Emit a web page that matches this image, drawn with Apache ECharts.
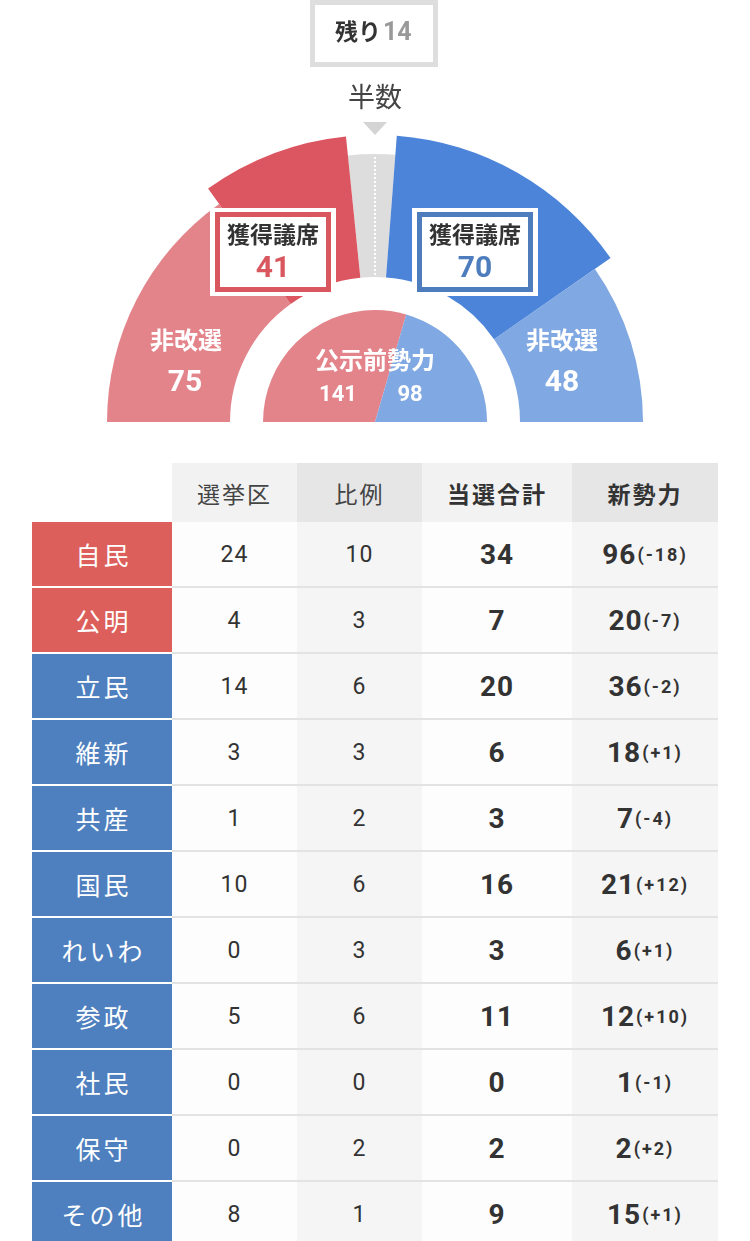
<!DOCTYPE html>
<html lang="ja">
<head>
<meta charset="UTF-8">
<title>参院選 獲得議席</title>
<script src="https://cdn.jsdelivr.net/npm/echarts@6/dist/echarts.min.js"></script>
<style>
    body { margin: 0; background: #fff; width: 750px; height: 1241px; overflow: hidden;
           font-family: Roboto, "Noto Sans CJK JP", sans-serif; }
    #seatChart { position: absolute; left: 0; top: 0; width: 750px; height: 440px; }
    #resultTable { position: absolute; left: 32px; top: 463px; width: 686px; }
    .row { display: flex; height: 66px; }
    .row > div { display: flex; align-items: center; justify-content: center; box-sizing: border-box;
                 height: 66px; border-bottom: 2px solid #e3e3e3; color: #333; }
    .row.head, .row.head > div { height: 59px; border-bottom: none; }
    .head > div { font-family: "Noto Sans CJK JP", sans-serif; font-size: 23px; letter-spacing: 2px; color: #444; }
    .head .b { font-weight: bold; color: #333; }
    .c0 { width: 140px; } .c1 { width: 125px; } .c2 { width: 125px; } .c3 { width: 150px; } .c4 { width: 146px; }
    .lt { background: #f2f2f2; } .dk { background: #e6e6e6; }
    .body .c1, .body .c3 { background: #fdfdfd; }
    .body .c2, .body .c4 { background: #f5f5f5; }
    .body .c0 { color: #fff !important; border-bottom-color: #fff !important;
                font-family: "Noto Sans CJK JP", sans-serif; font-size: 25px; letter-spacing: 3px; padding-left: 3px; }
    .body .c1, .body .c2 { font-size: 23px; letter-spacing: 1px; }
    .body .c3, .body .c4 { font-size: 28px; font-weight: bold; letter-spacing: 1px; }
    .diff { font-size: 18px; letter-spacing: 2px; margin-left: 1px; }
</style>
</head>
<body>
<div id="seatChart"></div>
<div id="resultTable"></div>

<script>
    // 議席 (左から: 与党非改選, 与党獲得, 残り, 野党獲得, 野党非改選)
    var seatNames = ['非改選', '獲得議席', '残り', '獲得議席', '非改選'];
    var seatValues = [75, 41, 14, 70, 48];
    // 公示前勢力 (与党, 野党)
    var preNames = ['与党', '野党'];
    var preValues = [141, 98];

    // 表
    var headers = ['選挙区', '比例', '当選合計', '新勢力'];
    var parties = ['自民', '公明', '立民', '維新', '共産', '国民', 'れいわ', '参政', '社民', '保守', 'その他'];
    var rulingCount = 2;
    var districtSeats = [24, 4, 14, 3, 1, 10, 0, 5, 0, 0, 8];
    var propSeats = [10, 3, 6, 3, 2, 6, 3, 6, 0, 2, 1];
    var wonSeats = [34, 7, 20, 6, 3, 16, 3, 11, 0, 2, 9];
    var newSeats = [96, 20, 36, 18, 7, 21, 6, 12, 1, 2, 15];
    var seatDiff = [-18, -7, -2, 1, -4, 12, 1, 10, -1, 2, 1];

    var RED_L = '#e3848b', RED_D = '#db5660', BLUE_L = '#80a8e2', BLUE_D = '#4b84d8', GRAY = '#dddddd';
    var CX = 375, CY = 422;
    var FONT = 'Roboto, "Noto Sans CJK JP", sans-serif';

    function ring(colors) {
        return seatValues.map(function (v, i) {
            return { name: seatNames[i], value: v, itemStyle: { color: colors[i] } };
        });
    }
    function txt(text, x, y, size, color, align) {
        return {
            type: 'text', silent: true, z: 20,
            style: { text: text, x: x, y: y, fill: color, fontSize: size, fontWeight: 'bold',
                     fontFamily: FONT, textAlign: align || 'center', textVerticalAlign: 'middle' }
        };
    }
    function box(cx, color, num) {
        return [
            { type: 'rect', silent: true, z: 18, shape: { x: cx - 61, y: 210, width: 122, height: 84 },
              style: { fill: '#fff', stroke: '#fff', lineWidth: 4 } },
            { type: 'rect', silent: true, z: 19, shape: { x: cx - 55.5, y: 214.5, width: 111, height: 75 },
              style: { fill: '#fff', stroke: color, lineWidth: 5 } },
            txt('獲得議席', cx, 237, 23, '#333'),
            txt(String(num), cx, 269, 30, color)
        ];
    }

    var chart = echarts.init(document.getElementById('seatChart'));
    var pieBase = { type: 'pie', silent: true, center: [CX, CY], startAngle: 180, endAngle: 0,
                    label: { show: false }, labelLine: { show: false } };

    var graphic = [
        { type: 'rect', silent: true, shape: { x: 312.5, y: 2.5, width: 123, height: 62 },
          style: { fill: '#fff', stroke: '#dedede', lineWidth: 5 } },
        txt('残り', 381, 34, 23, '#333', 'right'),
        txt(String(seatValues[2]), 383, 34, 25, '#999', 'left'),
        { type: 'text', silent: true, style: { text: '半数', x: CX, y: 100, fill: '#444', fontSize: 27,
          fontFamily: FONT, textAlign: 'center', textVerticalAlign: 'middle' } },
        { type: 'polygon', silent: true, shape: { points: [[CX - 12, 122], [CX + 12, 122], [CX, 135]] },
          style: { fill: '#d4d4d4' } },
        { type: 'line', silent: true, z: 10, shape: { x1: CX, y1: 157, x2: CX, y2: 280 },
          style: { stroke: '#fff', lineWidth: 2, lineDash: [2, 2] } },
        txt(seatNames[0], 186, 343, 24, '#fff'),
        txt(String(seatValues[0]), 185, 383, 30, '#fff'),
        txt(seatNames[4], 562, 343, 24, '#fff'),
        txt(String(seatValues[4]), 562, 383, 30, '#fff'),
        txt('公示前勢力', CX, 363, 24, '#fff'),
        txt(String(preValues[0]), 338, 395, 22, '#fff'),
        txt(String(preValues[1]), 410, 395, 22, '#fff')
    ].concat(box(273, '#d9575e', seatValues[1]), box(475, '#4e7dbd', seatValues[3]));

    chart.setOption({
        animation: false,
        series: [
            Object.assign({}, pieBase, { radius: [145, 268],
                data: ring([RED_L, 'transparent', GRAY, 'transparent', BLUE_L]) }),
            Object.assign({}, pieBase, { radius: [145, 287],
                data: ring(['transparent', RED_D, 'transparent', BLUE_D, 'transparent']) }),
            Object.assign({}, pieBase, { radius: [0, 112],
                data: preValues.map(function (v, i) {
                    return { name: preNames[i], value: v, itemStyle: { color: i === 0 ? RED_L : BLUE_L } };
                }) })
        ],
        graphic: graphic
    });

    // 表を組み立て
    var html = '<div class="row head"><div class="c0"></div>' +
        '<div class="c1 lt">' + headers[0] + '</div>' +
        '<div class="c2 dk">' + headers[1] + '</div>' +
        '<div class="c3 lt b">' + headers[2] + '</div>' +
        '<div class="c4 dk b">' + headers[3] + '</div></div>';
    for (var i = 0; i < parties.length; i++) {
        var bg = i < rulingCount ? '#dc5f5b' : '#4e7fbe';
        var d = seatDiff[i] > 0 ? '+' + seatDiff[i] : String(seatDiff[i]);
        html += '<div class="row body">' +
            '<div class="c0" style="background:' + bg + '">' + parties[i] + '</div>' +
            '<div class="c1">' + districtSeats[i] + '</div>' +
            '<div class="c2">' + propSeats[i] + '</div>' +
            '<div class="c3">' + wonSeats[i] + '</div>' +
            '<div class="c4">' + newSeats[i] + '<span class="diff">(' + d + ')</span></div></div>';
    }
    document.getElementById('resultTable').innerHTML = html;
</script>
</body>
</html>
